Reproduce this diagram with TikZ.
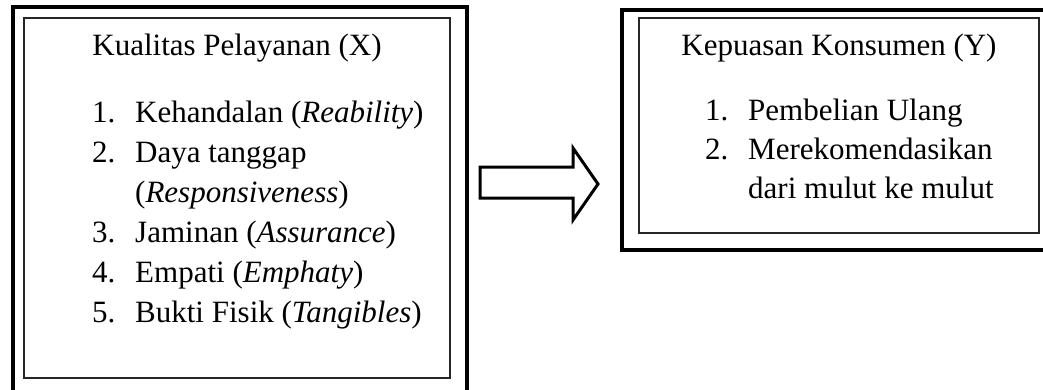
\documentclass[tikz,border=0pt]{standalone}
\usepackage{fontspec}
\setmainfont{Liberation Serif}
\begin{document}
\begin{tikzpicture}[x=1pt,y=-1pt,
  outerbox/.style={draw=black, line width=4pt},
  innerbox/.style={draw=black!85, line width=1.5pt},
  txt/.style={anchor=base west, inner sep=0pt, font=\fontsize{31}{40}\selectfont},
  ttl/.style={anchor=base, inner sep=0pt, font=\fontsize{31}{40}\selectfont},
  blockarrow/.style={draw=black, line width=3pt, line join=miter, fill=white}]
\useasboundingbox (0,0) rectangle (1043,389);
\clip (0,0) rectangle (1043,389);
% left box
\draw[outerbox] (12.5,7) rectangle (467,400);
\draw[innerbox] (24,18) rectangle (450,378);
\node[ttl] (lt) at (237,55) {Kualitas Pelayanan (X)};
\node[txt] (ln1) at (92,122) {1.};
\node[txt] (li1) at (135,122) {Kehandalan (\textit{Reability})};
\node[txt] (ln2) at (92,162) {2.};
\node[txt] (li2) at (135,162) {Daya tanggap};
\node[txt] (li2b) at (135,202) {(\textit{Responsiveness})};
\node[txt] (ln3) at (92,242) {3.};
\node[txt] (li3) at (135,242) {Jaminan (\textit{Assurance})};
\node[txt] (ln4) at (92,282) {4.};
\node[txt] (li4) at (135,282) {Empati (\textit{Emphaty})};
\node[txt] (ln5) at (92,322) {5.};
\node[txt] (li5) at (135,322) {Bukti Fisik (\textit{Tangibles})};
% arrow
\draw[blockarrow] (480,167) -- (573,167) -- (573,148) -- (598,184) -- (573,220) -- (573,198) -- (480,198) -- cycle;
% right box
\draw[outerbox] (622,10) rectangle (1060,250);
\draw[innerbox] (639,18) rectangle (1039,233);
\node[ttl] (rt) at (839,55) {Kepuasan Konsumen (Y)};
\node[txt] (rn1) at (705,120) {1.};
\node[txt] (ri1) at (748,120) {Pembelian Ulang};
\node[txt] (rn2) at (705,159) {2.};
\node[txt] (ri2) at (748,159) {Merekomendasikan};
\node[txt] (ri2b) at (748,198) {dari mulut ke mulut};
\end{tikzpicture}
\end{document}
